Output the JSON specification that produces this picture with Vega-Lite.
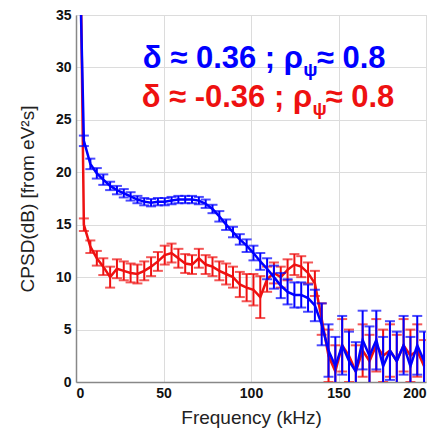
{
  "$schema": "https://vega.github.io/schema/vega-lite/v6.json",
  "width": 350,
  "height": 367,
  "autosize": "none",
  "padding": {"left": 76, "top": 15, "right": 13, "bottom": 54},
  "background": "white",
  "config": {
    "font": "Liberation Sans",
    "view": {"stroke": "#d0d0d0", "strokeWidth": 1},
    "axis": {
      "labelFont": "Liberation Sans", "labelFontWeight": "bold", "labelFontSize": 14, "labelColor": "#111",
      "titleFont": "Liberation Sans", "titleFontWeight": "normal", "titleFontSize": 19, "titleColor": "#222",
      "gridColor": "#dcdcdc", "gridWidth": 1, "domainColor": "#888", "domainWidth": 1.5,
      "ticks": false
    }
  },
  "datasets": {
    "spec": [
      {"f": 0, "blue": 56, "be": 0.5, "red": 75, "re": 0.6},
      {"f": 4.5, "blue": 23.0, "be": 0.5, "red": 15.0, "re": 0.6},
      {"f": 8.2, "blue": 20.8, "be": 0.5, "red": 12.9, "re": 0.6},
      {"f": 11.9, "blue": 19.9, "be": 0.5, "red": 11.8, "re": 0.7},
      {"f": 15.6, "blue": 19.3, "be": 0.5, "red": 11.0, "re": 0.8},
      {"f": 19.5, "blue": 18.7, "be": 0.4, "red": 10.0, "re": 1.0},
      {"f": 23.4, "blue": 18.3, "be": 0.4, "red": 10.8, "re": 0.9},
      {"f": 27.3, "blue": 18.0, "be": 0.4, "red": 10.6, "re": 0.9},
      {"f": 31.2, "blue": 17.7, "be": 0.4, "red": 10.4, "re": 0.9},
      {"f": 35.1, "blue": 17.4, "be": 0.35, "red": 10.3, "re": 0.9},
      {"f": 39.0, "blue": 17.2, "be": 0.35, "red": 10.6, "re": 0.9},
      {"f": 42.9, "blue": 17.1, "be": 0.35, "red": 11.0, "re": 0.9},
      {"f": 46.8, "blue": 17.2, "be": 0.35, "red": 11.5, "re": 0.9},
      {"f": 50.7, "blue": 17.2, "be": 0.35, "red": 12.1, "re": 0.9},
      {"f": 54.6, "blue": 17.3, "be": 0.35, "red": 12.3, "re": 0.9},
      {"f": 58.5, "blue": 17.4, "be": 0.35, "red": 11.8, "re": 0.9},
      {"f": 62.4, "blue": 17.4, "be": 0.35, "red": 11.3, "re": 0.9},
      {"f": 66.3, "blue": 17.4, "be": 0.35, "red": 11.2, "re": 0.9},
      {"f": 70.2, "blue": 17.3, "be": 0.35, "red": 11.8, "re": 0.9},
      {"f": 74.1, "blue": 17.0, "be": 0.4, "red": 11.2, "re": 0.9},
      {"f": 78.0, "blue": 16.5, "be": 0.4, "red": 11.0, "re": 0.9},
      {"f": 81.9, "blue": 15.8, "be": 0.5, "red": 10.6, "re": 0.9},
      {"f": 85.8, "blue": 15.0, "be": 0.5, "red": 10.3, "re": 1.0},
      {"f": 89.7, "blue": 14.3, "be": 0.5, "red": 10.0, "re": 1.0},
      {"f": 93.6, "blue": 13.6, "be": 0.5, "red": 9.3, "re": 1.2},
      {"f": 97.5, "blue": 13.0, "be": 0.6, "red": 9.0, "re": 1.3},
      {"f": 101.4, "blue": 12.3, "be": 0.7, "red": 8.8, "re": 1.5},
      {"f": 105.3, "blue": 11.5, "be": 0.8, "red": 8.1, "re": 2.0},
      {"f": 109.2, "blue": 10.8, "be": 1.0, "red": 9.8, "re": 1.2},
      {"f": 113.1, "blue": 10.0, "be": 1.1, "red": 10.4, "re": 1.0},
      {"f": 117.0, "blue": 9.2, "be": 1.2, "red": 10.0, "re": 1.0},
      {"f": 120.9, "blue": 8.6, "be": 1.2, "red": 10.7, "re": 1.0},
      {"f": 124.8, "blue": 8.3, "be": 1.2, "red": 11.2, "re": 1.0},
      {"f": 128.7, "blue": 8.3, "be": 1.2, "red": 11.0, "re": 1.0},
      {"f": 132.6, "blue": 8.0, "be": 1.3, "red": 10.4, "re": 1.0},
      {"f": 136.5, "blue": 7.3, "be": 1.5, "red": 9.4, "re": 1.2},
      {"f": 140.4, "blue": 5.5, "be": 2.0, "red": 6.0, "re": 1.5},
      {"f": 144.3, "blue": 3.0, "be": 2.5, "red": 2.5, "re": 2.5},
      {"f": 148.2, "blue": 1.5, "be": 2.8, "red": 1.0, "re": 2.5},
      {"f": 152.1, "blue": 3.5, "be": 2.8, "red": 3.5, "re": 2.5},
      {"f": 156.0, "blue": 2.0, "be": 2.8, "red": 2.5, "re": 2.5},
      {"f": 159.9, "blue": 1.0, "be": 2.8, "red": 1.0, "re": 2.5},
      {"f": 163.8, "blue": 4.0, "be": 2.8, "red": 3.0, "re": 2.5},
      {"f": 167.7, "blue": 2.5, "be": 2.8, "red": 2.0, "re": 2.5},
      {"f": 171.6, "blue": 4.0, "be": 2.8, "red": 3.5, "re": 2.5},
      {"f": 175.5, "blue": 1.5, "be": 2.8, "red": 2.5, "re": 2.5},
      {"f": 179.4, "blue": 3.0, "be": 2.8, "red": 3.0, "re": 2.5},
      {"f": 183.3, "blue": 2.0, "be": 2.8, "red": 2.0, "re": 2.5},
      {"f": 187.2, "blue": 3.5, "be": 2.8, "red": 3.5, "re": 2.5},
      {"f": 191.1, "blue": 1.5, "be": 2.8, "red": 2.5, "re": 2.5},
      {"f": 195.0, "blue": 3.5, "be": 2.8, "red": 3.0, "re": 2.5},
      {"f": 198.9, "blue": 2.0, "be": 2.8, "red": 1.5, "re": 2.5}
    ],
    "notes": [
      {"part": "head", "series": "blue", "x": 129.7, "y": 29.9, "t": "δ ≈ 0.36 ; ρ"},
      {"part": "sub", "series": "blue", "x": 129.9, "y": 29.2, "t": "ψ"},
      {"part": "tail", "series": "blue", "x": 137.6, "y": 29.9, "t": "≈ 0.8"},
      {"part": "head", "series": "red", "x": 134.9, "y": 26.2, "t": "δ ≈ -0.36 ; ρ"},
      {"part": "sub", "series": "red", "x": 135.1, "y": 25.5, "t": "ψ"},
      {"part": "tail", "series": "red", "x": 142.6, "y": 26.2, "t": "≈ 0.8"}
    ]
  },
  "layer": [
    {
      "data": {"name": "spec"},
      "mark": {"type": "errorbar", "color": "#ee1111", "thickness": 2, "clip": true, "ticks": {"size": 10, "thickness": 2, "color": "#ee1111"}},
      "encoding": {
        "x": {"field": "f", "type": "quantitative", "scale": {"domain": [0, 200]}, "title": "Frequency  (kHz)",
              "axis": {"values": [0, 50, 100, 150, 200], "grid": true, "labelPadding": 4, "titlePadding": 8}},
        "y": {"field": "red", "type": "quantitative", "scale": {"domain": [0, 35]}, "title": "CPSD(dB) [from eV²s]",
              "axis": {"values": [0, 5, 10, 15, 20, 25, 30, 35], "grid": true, "labelPadding": 5, "titlePadding": 18}},
        "yError": {"field": "re"}
      }
    },
    {
      "data": {"name": "spec"},
      "mark": {"type": "line", "color": "#ee1111", "strokeWidth": 2.5, "clip": true},
      "encoding": {
        "x": {"field": "f", "type": "quantitative", "title": "Frequency  (kHz)"},
        "y": {"field": "red", "type": "quantitative", "title": "CPSD(dB) [from eV²s]"}
      }
    },
    {
      "data": {"name": "spec"},
      "mark": {"type": "errorbar", "color": "#0000ff", "thickness": 2, "clip": true, "ticks": {"size": 10, "thickness": 2, "color": "#0000ff"}},
      "encoding": {
        "x": {"field": "f", "type": "quantitative", "title": "Frequency  (kHz)"},
        "y": {"field": "blue", "type": "quantitative", "title": "CPSD(dB) [from eV²s]"},
        "yError": {"field": "be"}
      }
    },
    {
      "data": {"name": "spec"},
      "mark": {"type": "line", "color": "#0000ff", "strokeWidth": 2.5, "clip": true},
      "encoding": {
        "x": {"field": "f", "type": "quantitative", "title": "Frequency  (kHz)"},
        "y": {"field": "blue", "type": "quantitative", "title": "CPSD(dB) [from eV²s]"}
      }
    },
    {
      "data": {"name": "notes"},
      "transform": [{"filter": "datum.part === 'head'"}],
      "mark": {"type": "text", "align": "right", "baseline": "alphabetic", "fontSize": 31, "fontWeight": "bold", "font": "Liberation Sans"},
      "encoding": {
        "x": {"field": "x", "type": "quantitative", "title": "Frequency  (kHz)"},
        "y": {"field": "y", "type": "quantitative", "title": "CPSD(dB) [from eV²s]"},
        "text": {"field": "t"},
        "color": {"field": "series", "type": "nominal", "scale": {"domain": ["blue", "red"], "range": ["#0000ff", "#ee1111"]}, "legend": null}
      }
    },
    {
      "data": {"name": "notes"},
      "transform": [{"filter": "datum.part === 'sub'"}],
      "mark": {"type": "text", "align": "left", "baseline": "alphabetic", "fontSize": 19, "fontWeight": "bold", "font": "Liberation Sans"},
      "encoding": {
        "x": {"field": "x", "type": "quantitative", "title": "Frequency  (kHz)"},
        "y": {"field": "y", "type": "quantitative", "title": "CPSD(dB) [from eV²s]"},
        "text": {"field": "t"},
        "color": {"field": "series", "type": "nominal", "legend": null}
      }
    },
    {
      "data": {"name": "notes"},
      "transform": [{"filter": "datum.part === 'tail'"}],
      "mark": {"type": "text", "align": "left", "baseline": "alphabetic", "fontSize": 31, "fontWeight": "bold", "font": "Liberation Sans"},
      "encoding": {
        "x": {"field": "x", "type": "quantitative", "title": "Frequency  (kHz)"},
        "y": {"field": "y", "type": "quantitative", "title": "CPSD(dB) [from eV²s]"},
        "text": {"field": "t"},
        "color": {"field": "series", "type": "nominal", "legend": null}
      }
    }
  ]
}
